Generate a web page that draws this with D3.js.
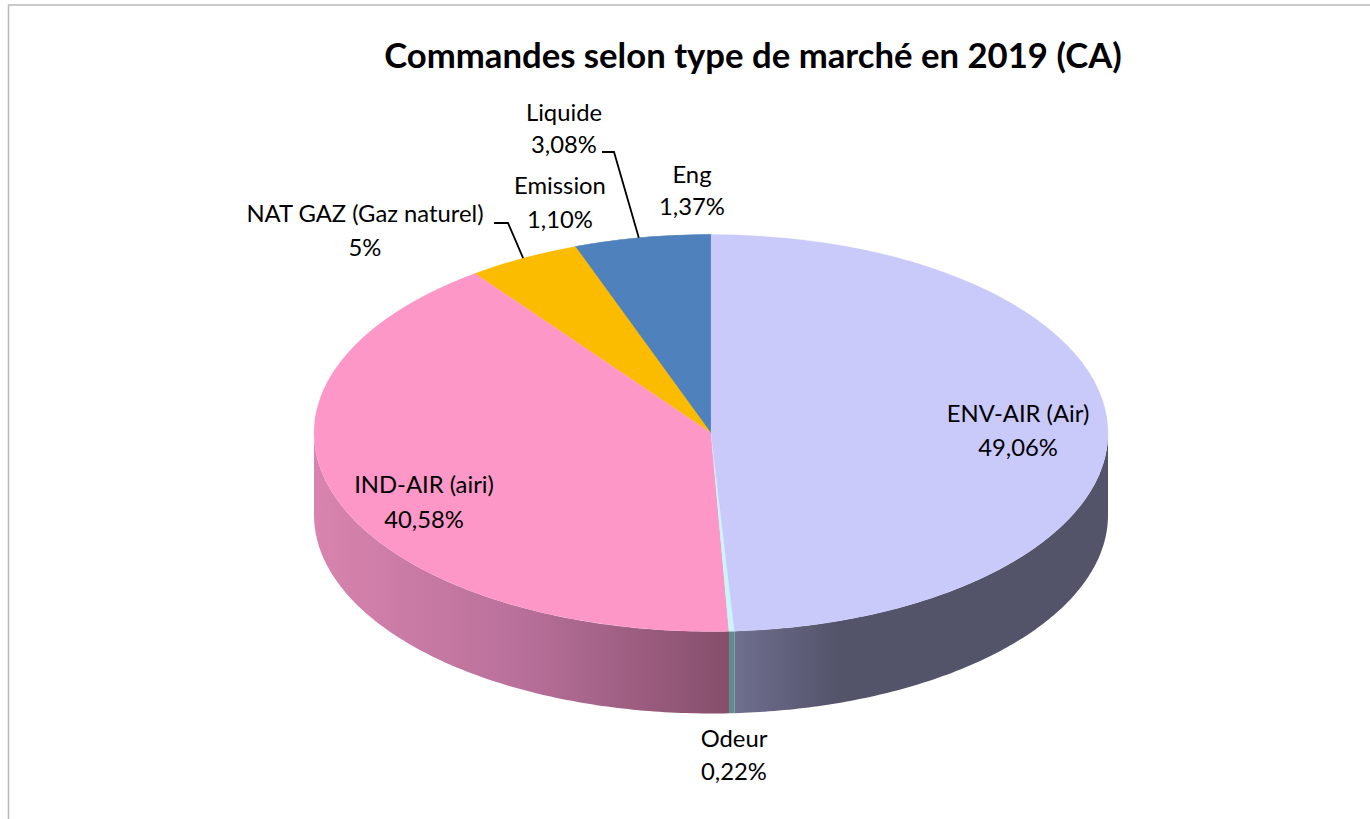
<!DOCTYPE html>
<html><head><meta charset="utf-8">
<script src="https://cdn.jsdelivr.net/npm/d3@7/dist/d3.min.js"></script>
<style>html,body{margin:0;padding:0;background:#fff}svg{display:block}text{font-family:Lato,"Open Sans",sans-serif;fill:#000}</style>
</head><body><div id="c"></div>
<script>
const categories=["ENV-AIR (Air)","Odeur","IND-AIR (airi)","NAT GAZ (Gaz naturel)","Emission","Liquide","Eng"];
const values=[49.06,0.22,40.58,4.59,1.10,3.08,1.37];
const valueLabels=["49,06%","0,22%","40,58%","5%","1,10%","3,08%","1,37%"];
const topColors=["#c9c9fa","#c8f6fb","#fc97c8","#fbbc00","#4f81bd","#4f81bd","#4f81bd"];
const sideStops=[
 ["#6f6f8f","#53536a","#53536a"],
 ["#5f8c8c","#5f8c8c","#5f8c8c"],
 ["#d884ae","#b8709a","#864e6b"],
 ["#000","#000","#000"],["#000","#000","#000"],["#000","#000","#000"],["#000","#000","#000"]];
const titleText="Commandes selon type de marché en 2019 (CA)";
const W=1370,H=819,cx=711,cy=433,rx=397,ry=198.5,depth=82;
const svg=d3.select("#c").append("svg").attr("width",W).attr("height",H);
svg.append("path").attr("d",`M8.5,${H}V5H${W}`).attr("fill","none").attr("stroke","#b9b9b9").attr("stroke-width",1.5);
svg.append("text").attr("x",753).attr("y",68).attr("text-anchor","middle").attr("font-weight",700).attr("font-size",34.7).text(titleText);

const pie=d3.pie().sort(null).value(d=>d)(values);
const px=a=>cx+rx*Math.sin(a), py=a=>cy-ry*Math.cos(a);
const defs=svg.append("defs");
const wall=svg.append("g");
pie.forEach((s,i)=>{
  const a0=Math.max(s.startAngle,Math.PI/2),a1=Math.min(s.endAngle,Math.PI*1.5);
  if(a1<=a0)return;
  const x0=px(a1),x1=px(a0);
  const lo=Math.min(x0,x1),hi=Math.max(x0,x1);
  const g=defs.append("linearGradient").attr("id","g"+i).attr("gradientUnits","userSpaceOnUse").attr("x1",lo).attr("x2",hi).attr("y1",0).attr("y2",0);
  const st=sideStops[i];
  if(i===0){g.append("stop").attr("offset",0).attr("stop-color",st[0]);g.append("stop").attr("offset",.28).attr("stop-color",st[1]);g.append("stop").attr("offset",1).attr("stop-color",st[2]);}
  else{st.forEach((c,k)=>g.append("stop").attr("offset",k/2).attr("stop-color",c));}
  const n=120,ang=d3.range(n+1).map(k=>a0+(a1-a0)*k/n);
  const area=d3.area().x(a=>px(a)).y0(a=>py(a)).y1(a=>py(a)+depth);
  wall.append("path").attr("d",area(ang)).attr("fill",`url(#g${i})`);
});
const arc=d3.arc().innerRadius(0).outerRadius(rx);
const drawOrder=[6,5,4,3,2,1,0];
svg.append("g").attr("transform",`translate(${cx},${cy}) scale(1,${ry/rx})`)
  .selectAll("path").data(drawOrder).join("path").attr("d",i=>arc(pie[i]))
  .attr("fill",i=>topColors[i]).attr("stroke",i=>topColors[i]).attr("stroke-width",i=>i>=4?1.2:.3);
const leaders=[{i:3,x0:494,x1:508,y:223},{i:5,x0:602,x1:614,y:152}];
leaders.forEach(l=>{const s=pie[l.i],m=(s.startAngle+s.endAngle)/2;
  svg.append("path").attr("d",d3.line()([[l.x0,l.y],[l.x1,l.y],[px(m),py(m)]])).attr("fill","none").attr("stroke","#000").attr("stroke-width",1.8);});
const labelPos=[[1018,422,456],[734,747,780],[424,493,528],[365,222,256],[560,194,228],[564,121,153],[692,183,215]];
labelPos.forEach((p,i)=>{
  const t=svg.append("text").attr("text-anchor","middle").attr("font-size",23.8);
  t.append("tspan").attr("x",p[0]).attr("y",p[1]).text(categories[i]);
  t.append("tspan").attr("x",p[0]).attr("y",p[2]).text(valueLabels[i]);
});
</script></body></html>
